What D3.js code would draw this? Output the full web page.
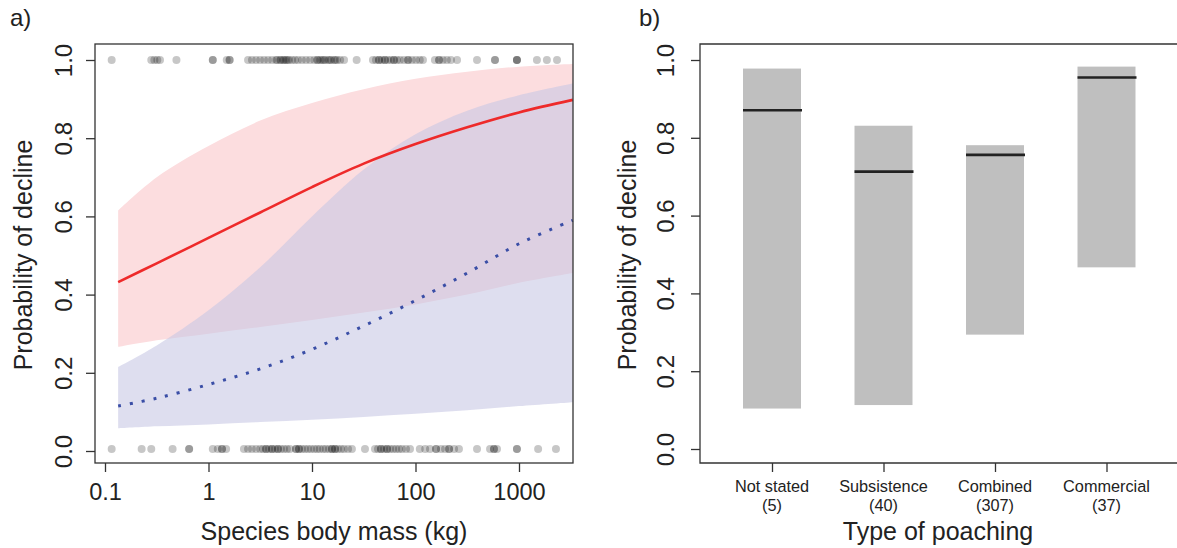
<!DOCTYPE html>
<html>
<head>
<meta charset="utf-8">
<script src="https://cdn.jsdelivr.net/npm/d3@7"></script>
<style>
  body { margin: 0; background: #fff; }
  svg text { font-family: "Liberation Sans", Arial, sans-serif; fill: #222; }
</style>
</head>
<body>
<svg id="chart" width="1177" height="548"></svg>
<script>
// panel a: fitted curves at these body masses (kg)
var curveMass  = [0.134, 0.316, 1, 3.16, 10, 31.6, 100, 316, 1000, 3310];
var redFit     = [0.432, 0.48, 0.545, 0.61, 0.675, 0.735, 0.785, 0.828, 0.866, 0.898];
var redUpper   = [0.615, 0.70, 0.78, 0.845, 0.89, 0.925, 0.952, 0.97, 0.983, 0.99];
var redLower   = [0.266, 0.283, 0.30, 0.317, 0.335, 0.354, 0.375, 0.40, 0.43, 0.455];
var blueFit    = [0.115, 0.135, 0.17, 0.21, 0.26, 0.32, 0.385, 0.455, 0.53, 0.59];
var blueUpper  = [0.215, 0.27, 0.36, 0.47, 0.60, 0.72, 0.81, 0.87, 0.91, 0.94];
var blueLower  = [0.058, 0.063, 0.068, 0.074, 0.08, 0.087, 0.095, 0.104, 0.115, 0.125];

// species that declined (1) / did not (0), body mass in kg
var declinedMass = [0.116, 0.28, 0.3, 0.32, 0.34, 0.49, 1.1, 1.1, 1.5, 1.6, 1.6,
  2.41, 2.63, 2.88, 3.15, 3.44, 3.76, 4.11, 4.49, 4.6, 4.91, 5.0, 5.25, 5.4, 5.61, 5.8, 6.0, 6.41, 6.85, 7.33,
  8.0, 8.75, 9.57, 10.5, 11.2, 11.4, 12.0, 12.5, 13.0, 13.4, 14.3, 14.8, 15.3, 16.3, 16.8, 17.5, 18.7, 20.4,
  27,
  38.8, 41.5, 44.4, 44.4, 47.4, 50.7, 50.7, 54.2, 57.9, 61.9, 61.9, 66.2, 70.8, 77.4, 84.7, 84.7, 92.5, 101, 110, 118,
  154, 169, 169, 184, 201, 220, 252,
  393, 586, 586, 955, 955, 955, 1490, 1860, 2330];
var stableMass = [0.116, 0.226, 0.28, 0.45, 0.65, 0.65,
  1.1, 1.23, 1.35, 1.35, 1.48,
  2.2, 2.41, 2.63, 2.88, 3.15, 3.36, 3.6, 3.6, 3.85, 4.11, 4.11, 4.39, 4.69, 4.69, 5.01, 5.36, 5.73, 6.12,
  7.0, 7.0, 7.48, 7.48, 8.0, 8.55, 9.14, 9.77, 10.5, 11.2, 11.9, 12.8, 13.6, 14.6, 15.6, 15.6, 16.7, 16.7, 17.8, 19.1, 20.4, 22.3, 24.3,
  32.5,
  40.6, 43.4, 46.4, 46.4, 49.7, 53.1, 53.1, 56.8, 60.7, 64.9, 69.3, 74.1, 81, 88.5,
  110, 124, 138, 158, 158, 176, 193, 211, 211, 236, 263,
  393, 525, 573, 573, 613, 955, 955, 1530, 2275];

var massTicks = [0.1, 1, 10, 100, 1000];
var probTicks = [0, 0.2, 0.4, 0.6, 0.8, 1.0];

// panel b
var poachTypes = ["Not stated", "Subsistence", "Combined", "Commercial"];
var poachCounts = ["(5)", "(40)", "(307)", "(37)"];
var poachMedian = [0.871, 0.713, 0.756, 0.955];
var poachLower  = [0.104, 0.113, 0.294, 0.467];
var poachUpper  = [0.978, 0.831, 0.781, 0.983];

var svg = d3.select("#chart");
var fmt = d3.format(".1f");

// R-style rotated tick labels on a left axis
function styleLeftAxis(g, shift) {
  g.select(".domain").remove();
  g.selectAll("line").attr("stroke", "#333").attr("stroke-width", 1.3);
  g.selectAll("text")
    .attr("font-size", 24)
    .attr("text-anchor", "middle")
    .attr("dy", null)
    .attr("x", null)
    .attr("transform", "translate(" + shift + ",0) rotate(-90) translate(0,8)");
}

// ---------- panel a ----------
var ax = { left: 95, right: 573, top: 44, bottom: 463 };

var xMass = d3.scaleLog().domain([0.1, 1000]).range([105, 519]);
var yA = d3.scaleLinear().domain([0, 1]).range([451, 60]);

var curveData = curveMass.map(function(m, i) {
  return { m: m, rf: redFit[i], ru: redUpper[i], rl: redLower[i],
           bf: blueFit[i], bu: blueUpper[i], bl: blueLower[i] };
});

function band(lo, hi) {
  return d3.area()
    .x(function(d) { return xMass(d.m); })
    .y0(function(d) { return yA(d[lo]); })
    .y1(function(d) { return yA(d[hi]); })
    .curve(d3.curveCatmullRom.alpha(0.5));
}
function fitLine(key) {
  return d3.line()
    .x(function(d) { return xMass(d.m); })
    .y(function(d) { return yA(d[key]); })
    .curve(d3.curveCatmullRom.alpha(0.5));
}

var gA = svg.append("g");

gA.append("path").datum(curveData)
  .attr("d", band("rl", "ru"))
  .attr("fill", "rgb(252,221,223)");

gA.append("path").datum(curveData)
  .attr("d", band("bl", "bu"))
  .attr("fill", "rgba(198,198,227,0.58)");

gA.append("path").datum(curveData)
  .attr("d", fitLine("rf"))
  .attr("fill", "none")
  .attr("stroke", "#ee2a2a")
  .attr("stroke-width", 2.6);

gA.append("path").datum(curveData)
  .attr("d", fitLine("bf"))
  .attr("fill", "none")
  .attr("stroke", "#3a4ea6")
  .attr("stroke-width", 3)
  .attr("stroke-dasharray", "3,9");

gA.selectAll("circle.dec")
  .data(declinedMass).enter()
  .append("circle")
  .attr("class", "dec")
  .attr("cx", function(d) { return xMass(d); })
  .attr("cy", yA(1))
  .attr("r", 4)
  .attr("fill", "rgba(0,0,0,0.22)");

gA.selectAll("circle.stb")
  .data(stableMass).enter()
  .append("circle")
  .attr("class", "stb")
  .attr("cx", function(d) { return xMass(d); })
  .attr("cy", yA(0) - 2)
  .attr("r", 4)
  .attr("fill", "rgba(0,0,0,0.22)");

// box
gA.append("rect")
  .attr("x", ax.left).attr("y", ax.top)
  .attr("width", ax.right - ax.left).attr("height", ax.bottom - ax.top)
  .attr("fill", "none").attr("stroke", "#333").attr("stroke-width", 1.3);

// axes
var xAxisA = d3.axisBottom(xMass).tickValues(massTicks)
  .tickFormat(function(d) { return d < 1 ? String(d) : d3.format("d")(d); })
  .tickSize(9).tickPadding(6);
gA.append("g")
  .attr("transform", "translate(0," + ax.bottom + ")")
  .call(xAxisA)
  .call(function(g) {
    g.select(".domain").remove();
    g.selectAll("line").attr("stroke", "#333").attr("stroke-width", 1.3);
    g.selectAll("text").attr("font-size", 23.5).attr("y", 37).attr("dy", null);
  });

gA.append("g")
  .attr("transform", "translate(" + ax.left + ",0)")
  .call(d3.axisLeft(yA).tickValues(probTicks).tickFormat(fmt).tickSize(9))
  .call(styleLeftAxis, -31);

gA.append("text")
  .attr("x", 334).attr("y", 540)
  .attr("text-anchor", "middle").attr("font-size", 25)
  .text("Species body mass (kg)");
gA.append("text")
  .attr("transform", "translate(32,255) rotate(-90)")
  .attr("text-anchor", "middle").attr("font-size", 25)
  .text("Probability of decline");
gA.append("text")
  .attr("x", 10).attr("y", 26).attr("font-size", 24)
  .text("a)");

// ---------- panel b ----------
var bx = { left: 700, right: 1177, top: 44, bottom: 463 };

var xType = d3.scalePoint().domain(poachTypes).range([772, 1106.5]);
var yB = d3.scaleLinear().domain([0, 1]).range([449, 60]);
var barW = 58;

var gB = svg.append("g");

gB.selectAll("rect.ci")
  .data(poachTypes).enter()
  .append("rect")
  .attr("class", "ci")
  .attr("x", function(d) { return xType(d) - barW / 2; })
  .attr("width", barW)
  .attr("y", function(d, i) { return yB(poachUpper[i]); })
  .attr("height", function(d, i) { return yB(poachLower[i]) - yB(poachUpper[i]); })
  .attr("fill", "#bfbfbf");

gB.selectAll("line.med")
  .data(poachTypes).enter()
  .append("line")
  .attr("class", "med")
  .attr("x1", function(d) { return xType(d) - barW / 2; })
  .attr("x2", function(d) { return xType(d) + barW / 2 + 1; })
  .attr("y1", function(d, i) { return yB(poachMedian[i]); })
  .attr("y2", function(d, i) { return yB(poachMedian[i]); })
  .attr("stroke", "#222")
  .attr("stroke-width", 2.6);

gB.append("path")
  .attr("d", "M" + (bx.right + 2) + "," + bx.top + "H" + bx.left + "V" + bx.bottom + "H" + (bx.right + 2))
  .attr("fill", "none").attr("stroke", "#333").attr("stroke-width", 1.3);

gB.append("g")
  .attr("transform", "translate(0," + bx.bottom + ")")
  .call(d3.axisBottom(xType).tickSize(9).tickFormat(""))
  .call(function(g) {
    g.select(".domain").remove();
    g.selectAll("line").attr("stroke", "#333").attr("stroke-width", 1.3);
  });

gB.selectAll("text.cat")
  .data(poachTypes).enter()
  .append("text")
  .attr("class", "cat")
  .attr("x", function(d) { return xType(d); })
  .attr("y", 492)
  .attr("text-anchor", "middle").attr("font-size", 16.3)
  .text(function(d) { return d; });
gB.selectAll("text.cnt")
  .data(poachCounts).enter()
  .append("text")
  .attr("class", "cnt")
  .attr("x", function(d, i) { return xType(poachTypes[i]); })
  .attr("y", 511)
  .attr("text-anchor", "middle").attr("font-size", 16.3)
  .text(function(d) { return d; });

gB.append("g")
  .attr("transform", "translate(" + bx.left + ",0)")
  .call(d3.axisLeft(yB).tickValues(probTicks).tickFormat(fmt).tickSize(9))
  .call(styleLeftAxis, -34);

gB.append("text")
  .attr("x", 938).attr("y", 540)
  .attr("text-anchor", "middle").attr("font-size", 25)
  .text("Type of poaching");
gB.append("text")
  .attr("transform", "translate(636,255) rotate(-90)")
  .attr("text-anchor", "middle").attr("font-size", 25)
  .text("Probability of decline");
gB.append("text")
  .attr("x", 639).attr("y", 26).attr("font-size", 24)
  .text("b)");
</script>
</body>
</html>
